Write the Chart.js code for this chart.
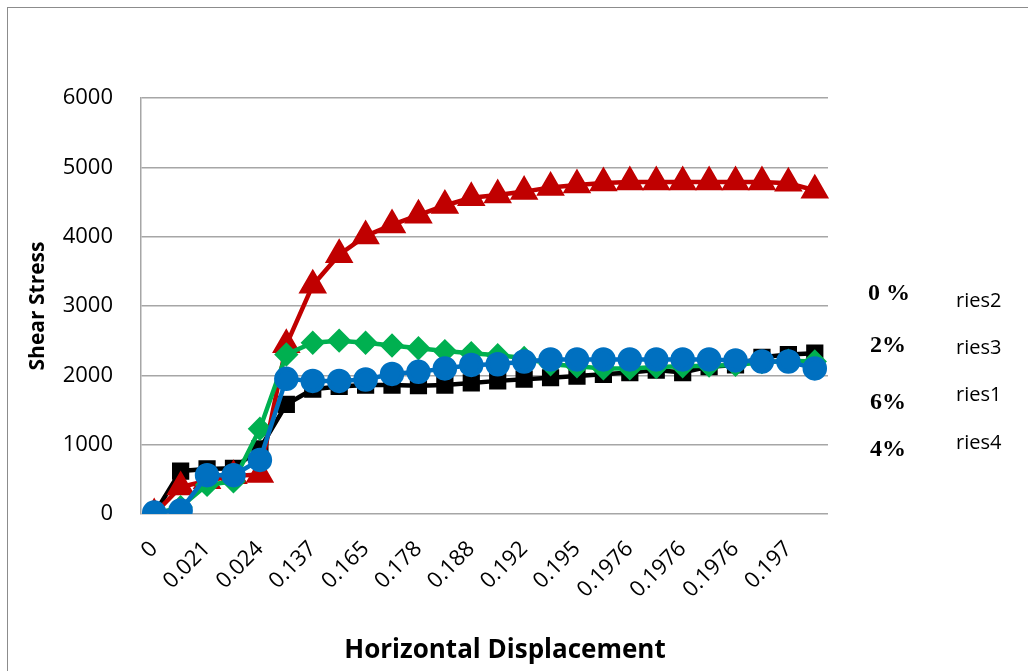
<!DOCTYPE html>
<html>
<head>
<meta charset="utf-8">
<script src="https://cdn.jsdelivr.net/npm/chart.js@4/dist/chart.umd.min.js"></script>
<style>
  html, body { margin: 0; padding: 0; background: #ffffff; }
  #wrap { position: relative; width: 1028px; height: 671px; overflow: hidden; }
  #frame { position: absolute; left: 7px; top: 7px; width: 1100px; height: 700px;
           border-left: 1.5px solid #8c8c8c; border-top: 1.5px solid #8c8c8c; box-sizing: border-box; }
  canvas { position: absolute; left: 0; top: 0; }
  .pct { position: absolute; font-family: "Liberation Serif", "Times New Roman", serif;
         font-weight: bold; font-size: 24px; color: #000; line-height: 1; }
  .ser { position: absolute; font-family: "Open Sans", sans-serif; font-size: 20px; color: #000; line-height: 1; }
  #xtitle { position: absolute; left: 305px; width: 400px; top: 633px; text-align: center;
            font-family: "Open Sans", sans-serif; font-weight: bold; font-size: 26px; line-height: 1.2; color: #000; }
</style>
</head>
<body>
<div id="wrap">
  <div id="frame"></div>
  <canvas id="c" width="1028" height="671"></canvas>
  <div id="xtitle">Horizontal Displacement</div>
  <div class="pct" style="left:868px; top:280px;">0 %</div>
  <div class="ser" style="left:956px; top:290px;">ries2</div>
  <div class="pct" style="left:870px; top:332px;">2%</div>
  <div class="ser" style="left:956px; top:337px;">ries3</div>
  <div class="pct" style="left:870px; top:389px;">6%</div>
  <div class="ser" style="left:956px; top:384px;">ries1</div>
  <div class="pct" style="left:870px; top:436px;">4%</div>
  <div class="ser" style="left:956px; top:432px;">ries4</div>
</div>
<script>
// Horizontal displacement readings (category axis)
const displacement = [
  '0', '0.013', '0.021', '0.022', '0.024', '0.09', '0.137', '0.153', '0.165', '0.172',
  '0.178', '0.184', '0.188', '0.19', '0.192', '0.194', '0.195', '0.197', '0.1976', '0.1976',
  '0.1976', '0.1976', '0.1976', '0.1976', '0.197', '0.197'
];

// Shear stress per mix
const ries1 = [0, 620, 650, 660, 940, 1580, 1800, 1840, 1860, 1860,
  1850, 1860, 1890, 1920, 1945, 1965, 1990, 2015, 2040, 2075,
  2040, 2125, 2150, 2260, 2300, 2320];
const ries2 = [0, 390, 480, 550, 570, 2440, 3300, 3740, 4010, 4170,
  4310, 4450, 4560, 4600, 4650, 4710, 4745, 4775, 4790, 4790,
  4790, 4790, 4790, 4790, 4770, 4670];
const ries3 = [0, 100, 420, 470, 1230, 2300, 2470, 2500, 2470, 2430,
  2390, 2350, 2320, 2290, 2250, 2160, 2130, 2100, 2100, 2120,
  2130, 2140, 2150, 2190, 2210, 2200];
const ries4 = [20, 50, 560, 560, 780, 1950, 1920, 1920, 1940, 2020,
  2050, 2100, 2150, 2160, 2200, 2230, 2230, 2230, 2230, 2230,
  2230, 2230, 2215, 2200, 2200, 2100];

// Y-axis ticks
const stressTicks = [0, 1000, 2000, 3000, 4000, 5000, 6000];

const gridGray = '#a6a6a6';

new Chart(document.getElementById('c'), {
  type: 'line',
  data: {
    labels: displacement,
    datasets: [
      { label: '6%', data: ries1, borderColor: '#000000', backgroundColor: '#000000',
        borderWidth: 4.5, pointStyle: 'rect', pointRadius: 9, order: 3 },
      { label: '0 %', data: ries2, borderColor: '#c00000', backgroundColor: '#c00000',
        borderWidth: 4.5, pointStyle: 'triangle', pointRadius: 12, order: 2 },
      { label: '2%', data: ries3, borderColor: '#00b050', backgroundColor: '#00b050',
        borderWidth: 4.5, pointStyle: 'rectRot', pointRadius: 9, order: 1 },
      { label: '4%', data: ries4, borderColor: '#0070c0', backgroundColor: '#0070c0',
        borderWidth: 4.5, pointStyle: 'circle', pointRadius: 10, order: 0 }
    ]
  },
  options: {
    responsive: false,
    animation: false,
    devicePixelRatio: 1,
    layout: { padding: { left: 18, right: 200, top: 98, bottom: 0 } },
    elements: { line: { tension: 0 }, point: { borderWidth: 0 } },
    plugins: { legend: { display: false }, tooltip: { enabled: false } },
    scales: {
      x: {
        type: 'category',
        offset: true,
        grid: { display: false, drawTicks: false },
        border: { display: false },
        ticks: {
          autoSkip: false,
          maxRotation: 45, minRotation: 45,
          padding: 22,
          color: '#000',
          font: { family: 'Open Sans', size: 22 },
          callback: function (value, index) { return index % 2 === 0 ? this.getLabelForValue(value) : ''; }
        },
        afterFit: (s) => { s.height = 157; }
      },
      y: {
        min: 0, max: 6000,
        afterBuildTicks: (s) => { s.ticks = stressTicks.map(v => ({ value: v })); },
        grid: { color: gridGray, lineWidth: 1.5, drawTicks: false },
        border: { display: true, color: gridGray, width: 1.5 },
        ticks: { padding: 28, color: '#000', font: { family: 'Open Sans', size: 22 },
                 callback: (v) => String(v) },
        title: { display: true, text: 'Shear Stress', color: '#000',
                 font: { family: 'Open Sans', size: 21, weight: 'bold' }, padding: { top: 7, bottom: 0 } },
        afterFit: (s) => { s.width = 123; }
      }
    }
  }
});
</script>
</body>
</html>
